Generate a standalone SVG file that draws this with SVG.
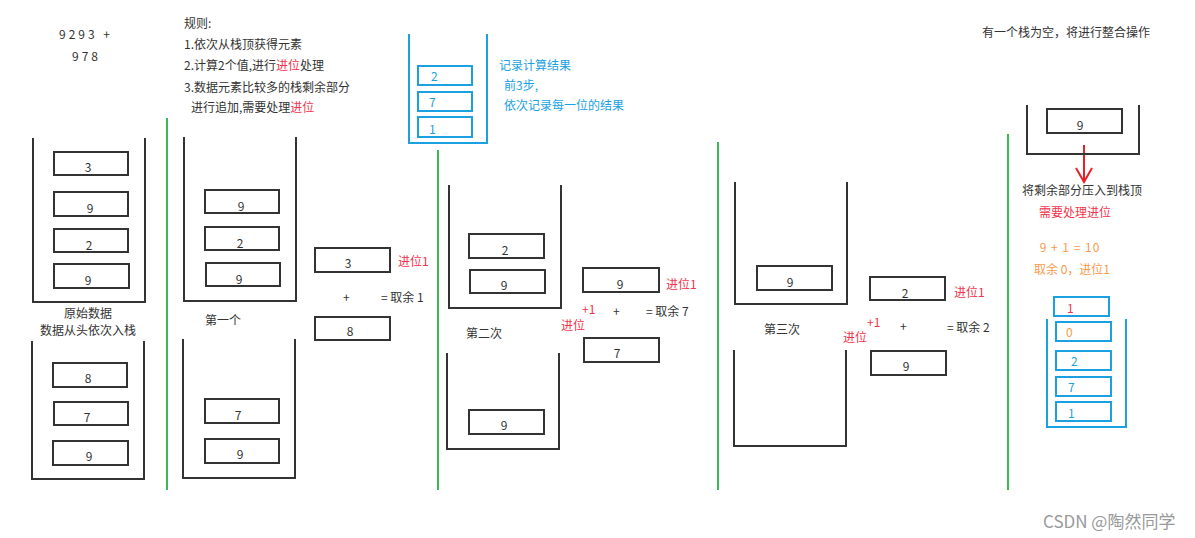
<svg xmlns="http://www.w3.org/2000/svg" width="1195" height="538" viewBox="0 0 1195 538">
<style>
text{font-family:"Noto Sans CJK SC","Liberation Sans",sans-serif;font-size:12px;fill:#333}
.st{fill:none;stroke:#333;stroke-width:2}
.bx{fill:#fff;stroke:#333;stroke-width:2}
.bb{fill:#fff;stroke:#1ba1e2;stroke-width:2}
.bs{fill:none;stroke:#1ba1e2;stroke-width:2}
.g{stroke:#3cba54;stroke-width:2}
.n{text-anchor:middle}
.r{fill:#f3334b}
.o{fill:#f79a4a}
.b{fill:#1ba1e2}
</style>
<rect width="1195" height="538" fill="#fff"/>
<g id="connectors">
<line class="g" x1="167" y1="118" x2="167" y2="490"/>
<line class="g" x1="438" y1="150" x2="438" y2="490"/>
<line class="g" x1="718" y1="142" x2="718" y2="490"/>
<line class="g" x1="1008" y1="134" x2="1008" y2="490"/>
<path d="M1084 145V182M1076 168L1084 182L1092 168" fill="none" stroke="#e8202a" stroke-width="2"/>
</g>
<g id="header">
<text x="59" y="39" letter-spacing="3">9293 +</text>
<text x="72" y="61" letter-spacing="3">978</text>
<text x="184" y="28">规则:</text>
<text x="184" y="49">1.依次从栈顶获得元素</text>
<text x="184" y="70">2.计算2个值,进行<tspan class="r">进位</tspan>处理</text>
<text x="184" y="92">3.数据元素比较多的栈剩余部分</text>
<text x="191" y="112">进行追加,需要处理<tspan class="r">进位</tspan></text>
<text x="982" y="37">有一个栈为空，将进行整合操作</text>
</g>
<g id="result-stack">
<path class="bs" d="M409 34V143H487V34"/>
<rect class="bb" x="418" y="66" width="54" height="19"/>
<rect class="bb" x="418" y="92" width="54" height="19"/>
<rect class="bb" x="418" y="117" width="54" height="20"/>
<text class="b" x="431" y="81">2</text>
<text class="b" x="429" y="107">7</text>
<text class="b" x="429" y="134">1</text>
<text class="b" x="499" y="70">记录计算结果</text>
<text class="b" x="504" y="90">前3步,</text>
<text class="b" x="504" y="110">依次记录每一位的结果</text>
</g>
<g id="original-top">
<path class="st" d="M33 138V302H145V138"/>
<rect class="bx" x="54" y="152" width="74" height="23"/><text class="n" x="88" y="172">3</text>
<rect class="bx" x="54" y="192" width="74" height="24"/><text class="n" x="90" y="213">9</text>
<rect class="bx" x="54" y="229" width="74" height="23"/><text class="n" x="89" y="250">2</text>
<rect class="bx" x="54" y="264" width="75" height="24"/><text class="n" x="88" y="285">9</text>
<text class="n" x="88" y="318">原始数据</text>
<text class="n" x="88" y="335">数据从头依次入栈</text>
</g>
<g id="original-bottom">
<path class="st" d="M32 341V479H144V341"/>
<rect class="bx" x="53" y="363" width="74" height="24"/><text class="n" x="88" y="383">8</text>
<rect class="bx" x="54" y="402" width="74" height="23"/><text class="n" x="87" y="422">7</text>
<rect class="bx" x="53" y="441" width="75" height="24"/><text class="n" x="89" y="461">9</text>
</g>
<g id="step1">
<path class="st" d="M184 137V301H296V137"/>
<rect class="bx" x="205" y="190" width="74" height="23"/><text class="n" x="241" y="211">9</text>
<rect class="bx" x="205" y="227" width="74" height="23"/><text class="n" x="240" y="248">2</text>
<rect class="bx" x="206" y="263" width="74" height="23"/><text class="n" x="239" y="284">9</text>
<text x="205" y="325">第一个</text>
<path class="st" d="M183 339V478H295V339"/>
<rect class="bx" x="205" y="399" width="74" height="24"/><text class="n" x="238" y="420">7</text>
<rect class="bx" x="205" y="439" width="74" height="24"/><text class="n" x="240" y="459">9</text>
<rect class="bx" x="315" y="248" width="75" height="24"/><text class="n" x="348" y="268">3</text>
<text class="r" x="398" y="266">进位1</text>
<text x="343" y="302" font-size="10">+</text>
<text x="381" y="302">= 取余 1</text>
<rect class="bx" x="315" y="317" width="75" height="23"/><text class="n" x="350" y="336">8</text>
</g>
<g id="step2">
<path class="st" d="M449 185V308H561V185"/>
<rect class="bx" x="469" y="234" width="75" height="24"/><text class="n" x="505" y="255">2</text>
<rect class="bx" x="470" y="270" width="75" height="23"/><text class="n" x="504" y="290">9</text>
<text x="466" y="338">第二次</text>
<path class="st" d="M447 353V449H559V353"/>
<rect class="bx" x="469" y="410" width="75" height="24"/><text class="n" x="504" y="430">9</text>
<rect class="bx" x="583" y="268" width="76" height="24"/><text class="n" x="620" y="289">9</text>
<text class="r" x="666" y="289">进位1</text>
<text class="r" x="582" y="314">+1</text>
<text x="613" y="316" font-size="10">+</text>
<text x="646" y="316">= 取余 7</text>
<text class="r" x="561" y="330">进位</text>
<rect class="bx" x="584" y="338" width="75" height="24"/><text class="n" x="617" y="358">7</text>
</g>
<g id="step3">
<path class="st" d="M735 182V304H847V182"/>
<rect class="bx" x="757" y="266" width="75" height="24"/><text class="n" x="790" y="287">9</text>
<text x="764" y="334">第三次</text>
<path class="st" d="M734 350V446H846V350"/>
<rect class="bx" x="870" y="277" width="75" height="23"/><text class="n" x="905" y="298">2</text>
<text class="r" x="954" y="297">进位1</text>
<text class="r" x="867" y="327">+1</text>
<text x="900" y="331" font-size="10">+</text>
<text x="947" y="332">= 取余 2</text>
<text class="r" x="843" y="342">进位</text>
<rect class="bx" x="871" y="351" width="75" height="24"/><text class="n" x="906" y="371">9</text>
</g>
<g id="merge">
<path class="st" d="M1027 105V154H1139V105"/>
<rect class="bx" x="1047" y="109" width="75" height="24"/><text class="n" x="1080" y="130">9</text>
<text class="n" x="1082" y="195">将剩余部分压入到栈顶</text>
<text class="n r" x="1075" y="217">需要处理进位</text>
<text class="n o" x="1070" y="252" letter-spacing="1">9 + 1 = 10</text>
<text class="n o" x="1072" y="274">取余 0，进位1</text>
<path class="bs" d="M1047 319V427H1126V319"/>
<rect class="bb" x="1054" y="297" width="55" height="19"/><text class="r" x="1067" y="313">1</text>
<rect class="bb" x="1056" y="322" width="55" height="19"/><text class="o" x="1066" y="337">0</text>
<rect class="bb" x="1056" y="351" width="55" height="19"/><text class="b" x="1071" y="366">2</text>
<rect class="bb" x="1056" y="377" width="55" height="19"/><text class="b" x="1068" y="392">7</text>
<rect class="bb" x="1056" y="402" width="55" height="19"/><text class="b" x="1068" y="418">1</text>
</g>
<text x="1043" y="528" style="fill:#9a9a9a;font-size:17px">CSDN @陶然同学</text>
</svg>
